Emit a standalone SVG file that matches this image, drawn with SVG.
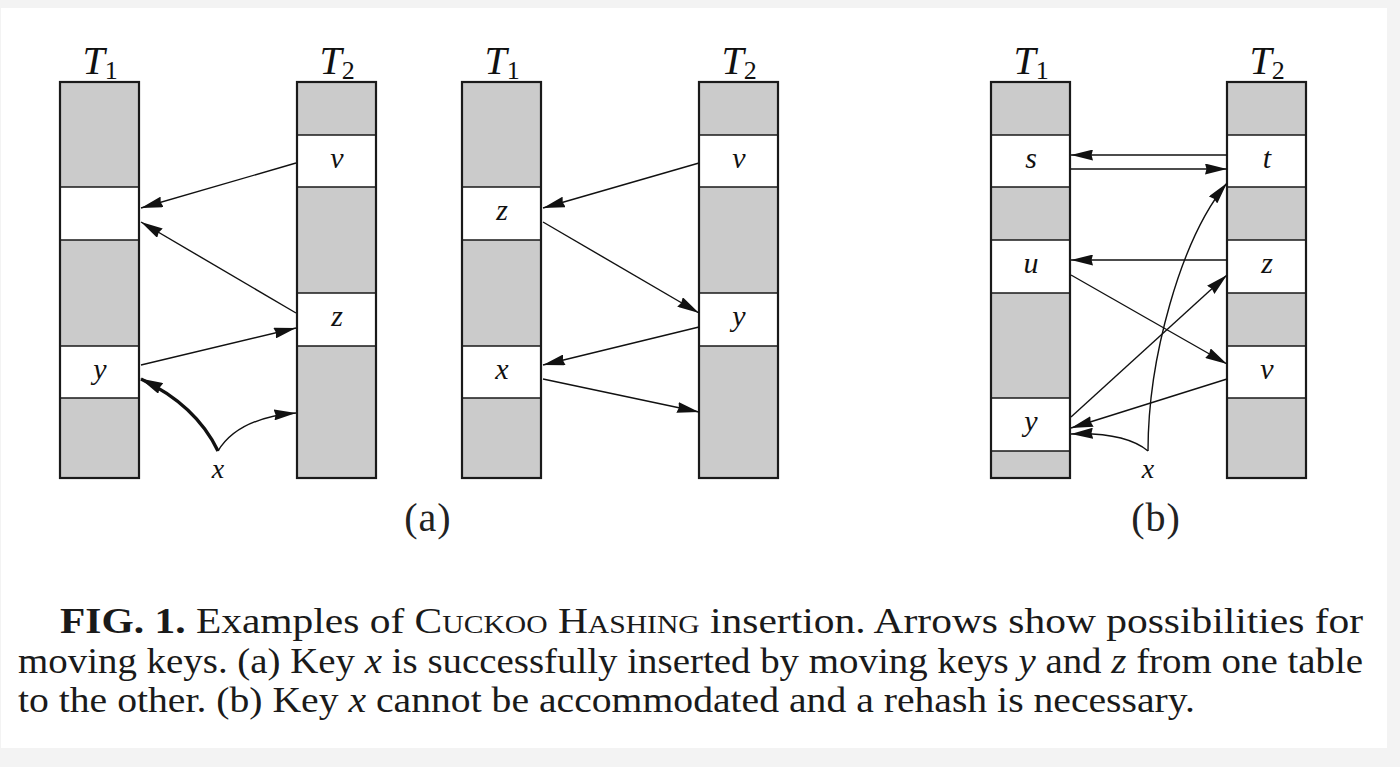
<svg xmlns="http://www.w3.org/2000/svg" width="1400" height="767" viewBox="0 0 1400 767">
<style>
.bg{fill:#f3f3f3}
.paper{fill:#ffffff}
.gray{fill:#cbcbcb}
.cell{fill:#ffffff}
.sep{stroke:#1a1a1a;stroke-width:1.5;fill:none}
.frame{fill:none;stroke:#1a1a1a;stroke-width:2.2}
.lbl{font-family:'Liberation Serif','Times New Roman','DejaVu Serif',serif;font-style:italic;font-size:30px;fill:#111;text-anchor:middle}
.tt{font-family:'Liberation Serif','Times New Roman','DejaVu Serif',serif;font-size:40px;fill:#111;text-anchor:middle}
.sub{font-style:normal;font-size:26px}
.it{font-style:italic}
.pl{font-family:'Liberation Serif','Times New Roman','DejaVu Serif',serif;font-size:40px;fill:#222;text-anchor:middle;letter-spacing:1px}
.cap{font-family:'Liberation Serif','Times New Roman','DejaVu Serif',serif;font-size:35px;fill:#1a1a1a}
.arr{fill:none;stroke:#111;stroke-width:1.4;marker-end:url(#ah)}
.thick{fill:none;stroke:#111;stroke-width:3.4;marker-end:url(#ahb)}
</style>
<defs>
<marker id="ah" viewBox="0 0 22 11" refX="22" refY="5.5" markerWidth="22" markerHeight="11" markerUnits="userSpaceOnUse" orient="auto">
<path d="M0,0 L22,5.5 L0,11 L1.5,5.5 Z" fill="#111"/>
</marker>
<marker id="ahb" viewBox="0 0 23 12" refX="22" refY="6" markerWidth="23" markerHeight="12" markerUnits="userSpaceOnUse" orient="auto">
<path d="M0,0 L23,6 L0,12 L1.5,6 Z" fill="#111"/>
</marker>
</defs>
<rect class="bg" x="0" y="0" width="1400" height="767"/>
<rect class="paper" x="1" y="8" width="1386" height="740"/>

<g id="a-T1">
<text class="tt" x="100" y="74"><tspan class="it">T</tspan><tspan class="sub" dy="5">1</tspan></text>
<rect class="gray" x="60" y="82" width="79" height="396"/>
<rect class="cell" x="60" y="187" width="79" height="53"/>
<rect class="cell" x="60" y="346" width="79" height="52"/>
<path class="sep" d="M60,187H139M60,240H139M60,346H139M60,398H139"/>
<rect class="frame" x="60" y="82" width="79" height="396"/>
<text class="lbl" x="100" y="379">y</text>
</g>
<g id="a-T2">
<text class="tt" x="337" y="74"><tspan class="it">T</tspan><tspan class="sub" dy="5">2</tspan></text>
<rect class="gray" x="297" y="82" width="79" height="396"/>
<rect class="cell" x="297" y="135" width="79" height="52"/>
<rect class="cell" x="297" y="293" width="79" height="53"/>
<path class="sep" d="M297,135H376M297,187H376M297,293H376M297,346H376"/>
<rect class="frame" x="297" y="82" width="79" height="396"/>
<text class="lbl" x="337" y="168">v</text>
<text class="lbl" x="337" y="326">z</text>
</g>
<g id="a-x">
<text class="lbl" x="218" y="478" style="font-size:28px">x</text>
</g>

<g id="m-T1">
<text class="tt" x="502" y="74"><tspan class="it">T</tspan><tspan class="sub" dy="5">1</tspan></text>
<rect class="gray" x="462" y="82" width="79" height="396"/>
<rect class="cell" x="462" y="187" width="79" height="53"/>
<rect class="cell" x="462" y="346" width="79" height="52"/>
<path class="sep" d="M462,187H541M462,240H541M462,346H541M462,398H541"/>
<rect class="frame" x="462" y="82" width="79" height="396"/>
<text class="lbl" x="502" y="220">z</text>
<text class="lbl" x="502" y="379">x</text>
</g>
<g id="m-T2">
<text class="tt" x="739" y="74"><tspan class="it">T</tspan><tspan class="sub" dy="5">2</tspan></text>
<rect class="gray" x="699" y="82" width="79" height="396"/>
<rect class="cell" x="699" y="135" width="79" height="52"/>
<rect class="cell" x="699" y="293" width="79" height="53"/>
<path class="sep" d="M699,135H778M699,187H778M699,293H778M699,346H778"/>
<rect class="frame" x="699" y="82" width="79" height="396"/>
<text class="lbl" x="739" y="168">v</text>
<text class="lbl" x="739" y="326">y</text>
</g>

<g id="b-T1">
<text class="tt" x="1031" y="74"><tspan class="it">T</tspan><tspan class="sub" dy="5">1</tspan></text>
<rect class="gray" x="991" y="82" width="79" height="396"/>
<rect class="cell" x="991" y="135" width="79" height="52"/>
<rect class="cell" x="991" y="240" width="79" height="53"/>
<rect class="cell" x="991" y="398" width="79" height="53"/>
<path class="sep" d="M991,135H1070M991,187H1070M991,240H1070M991,293H1070M991,398H1070M991,451H1070"/>
<rect class="frame" x="991" y="82" width="79" height="396"/>
<text class="lbl" x="1031" y="168">s</text>
<text class="lbl" x="1031" y="273">u</text>
<text class="lbl" x="1031" y="431">y</text>
</g>
<g id="b-T2">
<text class="tt" x="1267" y="74"><tspan class="it">T</tspan><tspan class="sub" dy="5">2</tspan></text>
<rect class="gray" x="1227" y="82" width="79" height="396"/>
<rect class="cell" x="1227" y="135" width="79" height="52"/>
<rect class="cell" x="1227" y="240" width="79" height="53"/>
<rect class="cell" x="1227" y="346" width="79" height="52"/>
<path class="sep" d="M1227,135H1306M1227,187H1306M1227,240H1306M1227,293H1306M1227,346H1306M1227,398H1306"/>
<rect class="frame" x="1227" y="82" width="79" height="396"/>
<text class="lbl" x="1267" y="168">t</text>
<text class="lbl" x="1267" y="273">z</text>
<text class="lbl" x="1267" y="379">v</text>
</g>
<g id="b-x">
<text class="lbl" x="1148" y="478" style="font-size:28px">x</text>
</g>

<g id="connectors">
<path class="arr" d="M296,163 L141,208"/>
<path class="arr" d="M296,313 L141,222"/>
<path class="arr" d="M141,365 L296,328"/>
<path class="thick" d="M218,451 Q196,405 141,379"/>
<path class="arr" d="M218,451 Q238,418 296,413"/>

<path class="arr" d="M699,163 L543,208"/>
<path class="arr" d="M543,222 L699,313"/>
<path class="arr" d="M699,327 L543,365"/>
<path class="arr" d="M543,379 L699,412"/>

<path class="arr" d="M1227,155 L1071,155"/>
<path class="arr" d="M1071,169 L1227,169"/>
<path class="arr" d="M1227,260 L1071,260"/>
<path class="arr" d="M1071,275 L1227,364"/>
<path class="arr" d="M1071,417 L1227,275"/>
<path class="arr" d="M1227,379 L1071,428"/>
<path class="arr" d="M1148,451 Q1125,432 1071,434"/>
<path class="arr" d="M1148,451 C1148,360 1180,240 1227,183"/>
</g>

<g id="panel-labels">
<text class="pl" x="428" y="531">(a)</text>
<text class="pl" x="1156" y="531">(b)</text>
</g>

<g id="caption">
<text class="cap" x="60" y="633" textLength="1303" lengthAdjust="spacingAndGlyphs"><tspan font-weight="bold">FIG. 1.</tspan> Examples of <tspan font-variant="small-caps">Cuckoo Hashing</tspan> insertion. Arrows show possibilities for</text>
<text class="cap" x="18" y="673" textLength="1345" lengthAdjust="spacingAndGlyphs">moving keys. (a) Key <tspan class="it">x</tspan> is successfully inserted by moving keys <tspan class="it">y</tspan> and <tspan class="it">z</tspan> from one table</text>
<text class="cap" x="18" y="712" textLength="1177" lengthAdjust="spacingAndGlyphs">to the other. (b) Key <tspan class="it">x</tspan> cannot be accommodated and a rehash is necessary.</text>
</g>
</svg>
